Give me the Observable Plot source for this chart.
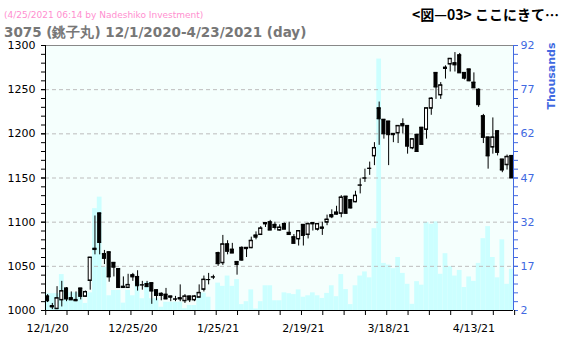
<!DOCTYPE html>
<html><head><meta charset="utf-8">
<script src="https://cdn.jsdelivr.net/npm/d3@7"></script>
<script src="https://cdn.jsdelivr.net/npm/@observablehq/plot@0.6"></script>
<style>
body{margin:0;background:#fff;}
#wrap{position:relative;width:566px;height:349px;font-family:"DejaVu Sans",Verdana,sans-serif;overflow:hidden;}
#wrap svg{position:absolute;left:0;top:0;}
.stamp{position:absolute;left:4px;top:10px;font-size:9px;color:#ff8fd0;white-space:nowrap;}
.title{position:absolute;left:4px;top:24px;font-size:13.5px;font-weight:bold;color:#777;white-space:nowrap;}
.fig{position:absolute;left:412px;top:4px;font-size:14px;font-weight:bold;color:#000;font-family:"Noto Sans CJK JP",sans-serif;white-space:nowrap;}
.unit{position:absolute;left:551px;top:76px;font-size:11px;font-weight:bold;color:#4169e1;transform:translate(-50%,-50%) rotate(-90deg);white-space:nowrap;}
</style></head>
<body>
<div id="wrap">
<div class="stamp">(4/25/2021 06:14 by Nadeshiko Investment)</div>
<div class="title">3075 (銚子丸) 12/1/2020-4/23/2021 (day)</div>
<div class="fig">&lt;図—03&gt; ここにきて…</div>
<div class="unit">Thousands</div>
</div>
<script>
// OHLC (yen) and volume (thousands), one entry per trading day
const open  = [1016,1005,1002,1012,1025,1014,1012,1025,1016,1034,1069,1110,1064,1066,1054,1047,1027,1026,1040,1038,1029,1030,1031,1023,1019,1018,1016,1013,1014,1011,1016,1012,1015,1024,1035,1038,1065,1054,1075,1069,1055,1071,1071,1071,1085,1086,1099,1100,1097,1091,1098,1088,1083,1081,1097,1086,1099,1092,1094,1100,1108,1111,1110,1129,1125,1123,1142,1150,1161,1175,1229,1216,1214,1200,1201,1211,1209,1184,1199,1207,1205,1229,1269,1244,1275,1279,1280,1289,1269,1273,1258,1250,1220,1196,1185,1203,1171,1165,1175];
const high  = [1018,1008,1027,1033,1026,1021,1021,1025,1022,1060,1107,1110,1068,1066,1054,1047,1038,1041,1042,1045,1033,1033,1031,1023,1020,1025,1016,1016,1029,1018,1016,1017,1029,1039,1042,1040,1066,1085,1079,1076,1055,1072,1071,1083,1089,1095,1099,1102,1100,1097,1099,1100,1086,1090,1097,1099,1099,1098,1100,1108,1114,1118,1130,1129,1125,1135,1149,1160,1168,1190,1236,1216,1214,1200,1209,1217,1209,1194,1199,1207,1229,1241,1269,1258,1277,1285,1292,1291,1269,1273,1269,1251,1222,1196,1218,1203,1171,1176,1175];
const low   = [1009,1001,1002,1004,1010,1012,1010,1012,1015,1023,1063,1063,1052,1032,1038,1025,1025,1025,1033,1022,1023,1026,1007,1011,1011,1013,1010,1010,1010,1008,1009,1010,1015,1021,1029,1035,1050,1051,1063,1065,1040,1056,1060,1070,1080,1085,1094,1091,1091,1090,1092,1086,1076,1073,1073,1081,1090,1090,1085,1096,1104,1108,1105,1109,1115,1122,1132,1145,1153,1164,1187,1194,1164,1190,1189,1200,1177,1182,1180,1188,1194,1221,1239,1239,1262,1270,1270,1269,1261,1259,1252,1230,1189,1160,1177,1175,1156,1159,1150];
const close = [1011,1004,1014,1022,1013,1012,1011,1016,1021,1060,1070,1077,1059,1038,1049,1026,1026,1029,1038,1028,1029,1027,1022,1017,1017,1013,1015,1013,1013,1016,1012,1016,1020,1035,1035,1038,1053,1075,1067,1065,1052,1057,1070,1079,1083,1093,1098,1091,1094,1094,1092,1086,1076,1090,1085,1098,1098,1098,1093,1103,1106,1109,1128,1110,1116,1130,1142,1150,1161,1184,1217,1200,1199,1199,1209,1209,1186,1194,1180,1188,1229,1240,1253,1255,1274,1285,1278,1269,1263,1260,1252,1233,1196,1175,1196,1179,1159,1174,1150];
const volume= [7.7,7.7,7.7,14.2,9,8,8,6.5,4.4,8,36.6,40.5,16.7,7,8.8,8.8,4.5,8.8,7,11.6,6,11.6,6,6,3.1,4.8,4.8,4.8,4.8,2.6,3.7,3.7,7.9,7.9,6.5,2,11.3,10.2,13.7,10.2,12.5,4,5,9,2.5,5,10.4,10.4,5.3,5.3,8,7.7,7.4,9,6.5,7,8,7,6.1,7.8,10.4,6.7,14.2,9.1,4,10.4,13.7,15.1,13.1,29.8,87.4,18,17.4,16.2,20,14.6,10.9,4.1,11.8,10.6,31.9,31.3,32.1,14.3,21.3,16.9,13.7,15.6,9.8,13.4,11.9,18,26.4,30.5,20,13.1,26,10.9,16];
// date tick labels (trading-day index -> label)
const tickIndex  = [0,18,36,54,72,90];
const tickLabels = ["12/1/20","12/25/20","1/25/21","2/19/21","3/18/21","4/13/21"];
const priceTicks = [1000,1050,1100,1150,1200,1250,1300];
const volTicks   = [2,17,32,47,62,77,92];

const rows = open.map((o,i)=>({i,o,h:high[i],l:low[i],c:close[i],v:volume[i]}));
const X0=-0.44, X1=98.36;
const vToP = v => 1000 + (v-2)*300/90;
const pToV = p => String(Math.round(2 + (p-1000)*90/300));
const BLUE = "#4169e1";
const hw = 0.32;

const chart = Plot.plot({
  width:566, height:349,
  marginTop:45, marginBottom:39, marginLeft:45, marginRight:53,
  x:{domain:[X0,X1], axis:null},
  y:{domain:[1000,1300], axis:null},
  style:{background:"transparent", fontFamily:"'DejaVu Sans', Verdana, sans-serif", fontSize:"11px", color:"#000"},
  marks:[
    Plot.frame({fill:"#f5fffd", stroke:null}),
    Plot.rect(rows,{x1:d=>d.i-0.5, x2:d=>d.i+0.5, y1:1000, y2:d=>vToP(d.v), fill:"#ccffff"}),
    Plot.ruleY([1050,1100,1150,1200,1250],{stroke:"#bdbdbd", strokeDasharray:"4,3"}),
    Plot.ruleY([1300],{stroke:"#888"}),
    Plot.ruleX(rows,{x:"i", y1:"l", y2:"h", stroke:"#000"}),
    Plot.rect(rows,{x1:d=>d.i-hw, x2:d=>d.i+hw, y1:"o", y2:"c", fill:d=>d.c>d.o?"#fff":"#000", stroke:"#000"}),
    Plot.ruleY(rows,{x1:d=>d.i-hw-0.1, x2:d=>d.i+hw+0.1, y:"o", stroke:"#000"}),
    Plot.ruleY(rows,{x1:d=>d.i-hw-0.1, x2:d=>d.i+hw+0.1, y:"c", stroke:"#000"}),
    // left axis
    Plot.ruleX([X0],{stroke:"#000"}),
    Plot.axisY(d3.range(1000,1301,10),{anchor:"left", tickSize:4, tickFormat:()=>"", label:null, color:"#000"}),
    Plot.axisY(priceTicks,{anchor:"left", tickSize:4, tickPadding:6, tickFormat:d=>String(d), label:null, color:"#000", fontSize:11}),
    // right axis (volume)
    Plot.ruleX([X1],{stroke:BLUE}),
    Plot.axisY(d3.range(2,93,3).map(vToP),{anchor:"right", tickSize:4, tickFormat:()=>"", label:null, color:BLUE}),
    Plot.axisY(volTicks.map(vToP),{anchor:"right", tickSize:4, tickPadding:3, tickFormat:pToV, label:null, color:BLUE, fontSize:11}),
    // bottom axis
    Plot.ruleY([1000],{stroke:"#000"}),
    Plot.axisX(d3.range(0,23).map(k=>X0+0.04+4.5*k),{anchor:"bottom", tickSize:5, tickFormat:()=>"", label:null, color:"#000"}),
    Plot.axisX(tickIndex,{anchor:"bottom", tickSize:0, tickPadding:14, tickFormat:i=>tickLabels[tickIndex.indexOf(i)], label:null, color:"#000", fontSize:11})
  ]
});
document.getElementById("wrap").prepend(chart);
</script>
</body></html>
